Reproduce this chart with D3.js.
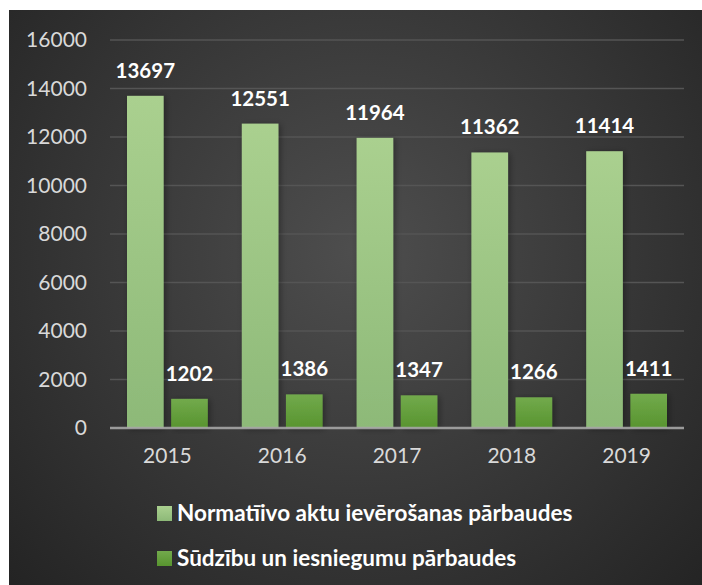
<!DOCTYPE html>
<html>
<head>
<meta charset="utf-8">
<script src="https://cdn.jsdelivr.net/npm/d3@7"></script>
<style>
  html, body { margin: 0; padding: 0; background: #ffffff; }
  svg { display: block; }
</style>
</head>
<body>
<svg id="chart" width="702" height="585"></svg>
<script>
const categories = ["2015", "2016", "2017", "2018", "2019"];
const seriesNames = ["Normatīivo aktu ievērošanas pārbaudes", "Sūdzību un iesniegumu pārbaudes"];
const seriesA = [13697, 12551, 11964, 11362, 11414];
const seriesB = [1202, 1386, 1347, 1266, 1411];
const yTicks = [0, 2000, 4000, 6000, 8000, 10000, 12000, 14000, 16000];

const svg = d3.select("#chart");
const defs = svg.append("defs");

const bg = defs.append("radialGradient").attr("id", "bg")
  .attr("gradientUnits", "userSpaceOnUse")
  .attr("cx", 360).attr("cy", 250).attr("r", 480);
bg.append("stop").attr("offset", "0%").attr("stop-color", "#4e4e4e");
bg.append("stop").attr("offset", "100%").attr("stop-color", "#242424");

const gA = defs.append("linearGradient").attr("id", "gA").attr("x1", 0).attr("y1", 0).attr("x2", 0).attr("y2", 1);
gA.append("stop").attr("offset", "0%").attr("stop-color", "#aad08f");
gA.append("stop").attr("offset", "100%").attr("stop-color", "#8db978");
const gB = defs.append("linearGradient").attr("id", "gB").attr("x1", 0).attr("y1", 0).attr("x2", 0).attr("y2", 1);
gB.append("stop").attr("offset", "0%").attr("stop-color", "#72aa4c");
gB.append("stop").attr("offset", "100%").attr("stop-color", "#58942f");

const shadow = defs.append("filter").attr("id", "sh").attr("x", "-30%").attr("y", "-10%").attr("width", "160%").attr("height", "130%");
shadow.append("feDropShadow").attr("dx", 2).attr("dy", 1).attr("stdDeviation", 3).attr("flood-color", "#000").attr("flood-opacity", 0.35);

svg.append("rect").attr("x", 9).attr("y", 10).attr("width", 693).attr("height", 575).attr("fill", "url(#bg)");

const plot = { left: 110, right: 684, top: 40, bottom: 428 };

const y = d3.scaleLinear().domain([0, 16000]).range([plot.bottom, plot.top]);
const x0 = d3.scaleBand().domain(categories).range([plot.left, plot.right]).padding(0);
const x1 = d3.scaleBand().domain([0, 1]).range([17, x0.bandwidth() - 17]).paddingInner(0.17);

// gridlines
svg.append("g").selectAll("line").data(yTicks.filter(d => d > 0)).join("line")
  .attr("x1", plot.left).attr("x2", plot.right)
  .attr("y1", d => y(d)).attr("y2", d => y(d))
  .attr("stroke", "#555555").attr("stroke-width", 1.5);

// y axis labels
const yAxis = d3.axisLeft(y).tickValues(yTicks).tickSize(0).tickPadding(23).tickFormat(d3.format("d"));
const yg = svg.append("g").attr("transform", `translate(${plot.left},0)`).call(yAxis);
yg.select(".domain").remove();
yg.selectAll("text").attr("fill", "#d9d9d9").attr("font-family", "Lato, 'Open Sans', sans-serif").attr("font-size", 21);

const data = categories.map((c, i) => ({ cat: c, vals: [seriesA[i], seriesB[i]] }));
const fills = ["url(#gA)", "url(#gB)"];

const groups = svg.append("g").selectAll("g").data(data).join("g")
  .attr("transform", d => `translate(${x0(d.cat)},0)`);

groups.selectAll("rect").data(d => d.vals.map((v, k) => ({ v, k }))).join("rect")
  .attr("x", d => x1(d.k)).attr("width", x1.bandwidth())
  .attr("y", d => y(d.v)).attr("height", d => y(0) - y(d.v))
  .attr("fill", d => fills[d.k]).attr("filter", "url(#sh)");

groups.selectAll("text.val").data(d => d.vals.map((v, k) => ({ v, k }))).join("text")
  .attr("class", "val")
  .attr("x", d => x1(d.k) + x1.bandwidth() / 2)
  .attr("y", d => y(d.v) - 18)
  .attr("text-anchor", "middle")
  .attr("fill", "#ffffff").attr("font-weight", "bold")
  .attr("font-family", "Lato, 'Open Sans', sans-serif").attr("font-size", 20.5)
  .text(d => d.v);

// x axis line
svg.append("line").attr("x1", plot.left).attr("x2", plot.right)
  .attr("y1", y(0)).attr("y2", y(0))
  .attr("stroke", "#a6a6a6").attr("stroke-width", 2.5).attr("opacity", 0.9);

// x labels
const xAxis = d3.axisBottom(x0).tickSize(0).tickPadding(20);
const xg = svg.append("g").attr("transform", `translate(0,${plot.bottom})`).call(xAxis);
xg.select(".domain").remove();
xg.selectAll("text").attr("fill", "#d9d9d9").attr("font-family", "Lato, 'Open Sans', sans-serif").attr("font-size", 21);

// legend
const legend = svg.append("g").selectAll("g").data(seriesNames).join("g")
  .attr("transform", (d, i) => `translate(157,${506 + i * 45})`);
legend.append("rect").attr("width", 15).attr("height", 15).attr("fill", (d, i) => fills[i]);
legend.append("text").attr("x", 20).attr("y", 15)
  .attr("fill", "#ffffff").attr("font-weight", "bold")
  .attr("font-family", "Lato, 'Open Sans', sans-serif").attr("font-size", 22.5)
  .text(d => d);
</script>
</body>
</html>
